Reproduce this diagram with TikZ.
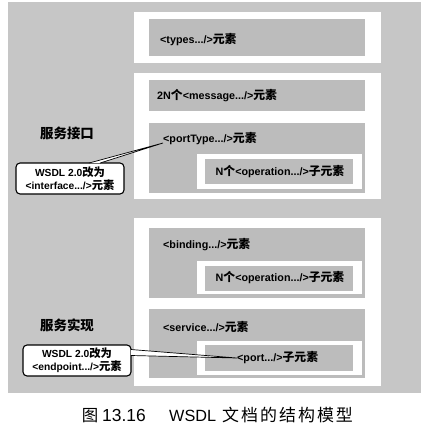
\documentclass[tikz,border=0pt]{standalone}
\usepackage{fontspec}
\setmainfont{Liberation Sans}
\newfontfamily\cjk[Scale=1.1]{Noto Sans CJK SC}
\newfontfamily\cjkside{Noto Sans CJK SC}
\newfontfamily\cjkcap[LetterSpace=12]{Noto Sans CJK SC}
\newcommand\zh[1]{{\cjk #1}}
\usetikzlibrary{calc}
\definecolor{bggray}{RGB}{198,198,198}
\definecolor{boxgray}{RGB}{188,188,188}
\begin{document}
\begin{tikzpicture}[x=1bp,y=-1bp,
  whitebox/.style={fill=white},
  graybox/.style={fill=boxgray},
  lbl/.style={font=\fontsize{10.8}{12}\selectfont\bfseries, inner sep=0pt, anchor=west},
  clbl/.style={font=\fontsize{10.8}{12}\selectfont\bfseries, inner sep=0pt},
  side/.style={font=\fontsize{13.5}{15}\selectfont\bfseries\cjkside, inner sep=0pt},
  callout/.style={draw=black, line width=1.1pt, fill=white, rounded corners=4bp, minimum width=108bp, minimum height=31bp, inner sep=0pt, align=center, font=\fontsize{10.3}{13.5}\selectfont\bfseries},
  wedge/.style={draw=black, fill=white, line width=0.7pt, line join=miter},
  captxt/.style={inner sep=0pt}
]
\useasboundingbox (0,0) rectangle (432,428);
% background
\fill[bggray] (8,2) rectangle (421,393);
% types
\fill[whitebox] (134,12) rectangle (381,63);
\fill[graybox] (149,19) rectangle (365,56);
% interface group
\fill[whitebox] (134,73) rectangle (381,199);
\fill[graybox] (149,80) rectangle (365,111);
\fill[graybox] (149,123) rectangle (365,193);
\fill[whitebox] (197,154) rectangle (362,189);
\fill[graybox] (205,159) rectangle (353,184);
% implementation group
\fill[whitebox] (134,218) rectangle (381,386);
\fill[graybox] (149,228) rectangle (365,298);
\fill[whitebox] (197,261) rectangle (362,294);
\fill[graybox] (205,266) rectangle (353,291);
\fill[graybox] (149,309) rectangle (365,378);
\fill[whitebox] (197,341) rectangle (362,375);
\fill[graybox] (205,345) rectangle (353,371);

% texts
\node[lbl] (types) at (160,40) {<types.../>\zh{元素}};
\node[lbl] (msg) at (157,96) {2N\zh{个}<message.../>\zh{元素}};
\node[lbl] (ptype) at (163,139) {<portType.../>\zh{元素}};
\node[clbl] (op1) at (280,172) {N\zh{个}<operation.../>\zh{子元素}};
\node[lbl] (bind) at (163,245) {<binding.../>\zh{元素}};
\node[clbl] (op2) at (280,278) {N\zh{个}<operation.../>\zh{子元素}};
\node[lbl] (serv) at (163,327) {<service.../>\zh{元素}};
\node[lbl] (port) at (237,358) {<port.../>\zh{子元素}};

\node[side] (iface) at (67,133) {服务接口};
\node[side] (impl) at (67,325) {服务实现};

% callouts
\node[callout] (c1) at (70,178.5) {WSDL 2.0\zh{改为}\\<interface.../>\zh{元素}};
\node[callout] (c2) at (77,360.5) {WSDL 2.0\zh{改为}\\<endpoint.../>\zh{元素}};
\draw[wedge] ($(c1.north)+(19,0.6)$) -- ($(ptype.west)+(0,4)$) -- ($(c1.north)+(30,0.6)$);
\draw[wedge] ($(c2.east)+(-0.6,-11)$) -- ($(port.west)+(0,0)$) -- ($(c2.east)+(-0.6,-5)$);

% caption
\node[captxt, font=\fontsize{16.5}{18}\selectfont\cjkside] (capfig) at (90,415.5) {图};
\node[captxt, anchor=west, font=\fontsize{17.5}{18}\selectfont] (capnum) at (102,415.5) {13.16};
\node[captxt, anchor=west, font=\fontsize{16.3}{18}\selectfont] (capwsdl) at (169,415.5) {WSDL};
\node[captxt, anchor=west, font=\fontsize{17}{18}\selectfont\cjkcap] (captext) at (222,415.5) {文档的结构模型};
\end{tikzpicture}
\end{document}
